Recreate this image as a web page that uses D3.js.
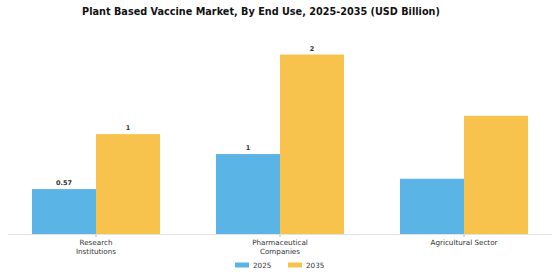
<!DOCTYPE html>
<html>
<head>
<meta charset="utf-8">
<script src="https://cdn.jsdelivr.net/npm/d3@7"></script>
<style>
  body { margin: 0; background: #fff; }
  svg { font-family: "DejaVu Sans", sans-serif; }
</style>
</head>
<body>
<div class="chart"></div>
<script>
var categories = ["Research Institutions", "Pharmaceutical Companies", "Agricultural Sector"];
var catLines = [["Research", "Institutions"], ["Pharmaceutical", "Companies"], ["Agricultural Sector"]];
var years = ["2025", "2035"];
var values2025 = [0.57, 1.01, 0.70];
var values2035 = [1.26, 2.26, 1.49];
var labels2025 = ["0.57", "1", ""];
var labels2035 = ["1", "2", ""];
var colors = ["#5AB4E5", "#F8C34D"];

var width = 560, height = 280;
var baseY = 234.5;

var svg = d3.select(".chart").append("svg")
  .attr("width", width)
  .attr("height", height);

svg.append("text")
  .attr("x", 261)
  .attr("y", 15)
  .attr("text-anchor", "middle")
  .attr("font-size", "9.7px")
  .attr("font-weight", "bold")
  .attr("fill", "#111")
  .text("Plant Based Vaccine Market, By End Use, 2025-2035 (USD Billion)");

var x0 = d3.scaleBand()
  .domain(categories)
  .range([32, 528])
  .paddingInner(56 / 184)
  .paddingOuter(0);

var x1 = d3.scaleBand()
  .domain(years)
  .range([0, x0.bandwidth()]);

var y = d3.scaleLinear()
  .domain([0, 2.26])
  .range([baseY, baseY - 180]);

var rows = categories.map(function(c, i) {
  return {cat: c, vals: [values2025[i], values2035[i]], labs: [labels2025[i], labels2035[i]]};
});

var g = svg.selectAll(".grp")
  .data(rows)
  .enter().append("g")
  .attr("transform", function(d) { return "translate(" + x0(d.cat) + ",0)"; });

g.selectAll("rect")
  .data(function(d) { return d.vals.map(function(v, j) { return {year: years[j], v: v}; }); })
  .enter().append("rect")
  .attr("x", function(d) { return x1(d.year); })
  .attr("width", x1.bandwidth())
  .attr("y", function(d) { return y(d.v); })
  .attr("height", function(d) { return baseY - y(d.v); })
  .attr("fill", function(d, j) { return colors[j]; });

g.selectAll(".vlab")
  .data(function(d) { return d.vals.map(function(v, j) { return {year: years[j], v: v, lab: d.labs[j]}; }); })
  .enter().append("text")
  .attr("class", "vlab")
  .attr("x", function(d) { return x1(d.year) + x1.bandwidth() / 2; })
  .attr("y", function(d) { return y(d.v) - 4; })
  .attr("text-anchor", "middle")
  .attr("font-size", "6.5px")
  .attr("font-weight", "bold")
  .attr("fill", "#333")
  .text(function(d) { return d.lab; });

// axis line
var axis = d3.axisBottom(x0).tickSize(2).tickFormat("");
var ax = svg.append("g")
  .attr("transform", "translate(0," + baseY + ")")
  .call(axis);
ax.select(".domain").remove();
ax.selectAll(".tick line").attr("stroke", "#999");
svg.append("line")
  .attr("x1", 8).attr("x2", 552)
  .attr("y1", baseY).attr("y2", baseY)
  .attr("stroke", "#e2e2e2")
  .attr("stroke-width", 1);

catLines.forEach(function(lines, i) {
  var t = svg.append("text")
    .attr("x", x0(categories[i]) + x0.bandwidth() / 2)
    .attr("y", 245)
    .attr("text-anchor", "middle")
    .attr("font-size", "7.2px")
    .attr("fill", "#333");
  lines.forEach(function(l, k) {
    t.append("tspan")
      .attr("x", x0(categories[i]) + x0.bandwidth() / 2)
      .attr("dy", k === 0 ? 0 : 8.5)
      .text(l);
  });
});

// legend
var legX = [235, 288];
years.forEach(function(yr, j) {
  svg.append("rect")
    .attr("x", legX[j]).attr("y", 262.5)
    .attr("width", 14).attr("height", 5)
    .attr("fill", colors[j]);
  svg.append("text")
    .attr("x", legX[j] + 18).attr("y", 267.5)
    .attr("font-size", "7.2px")
    .attr("fill", "#333")
    .text(yr);
});
</script>
</body>
</html>
